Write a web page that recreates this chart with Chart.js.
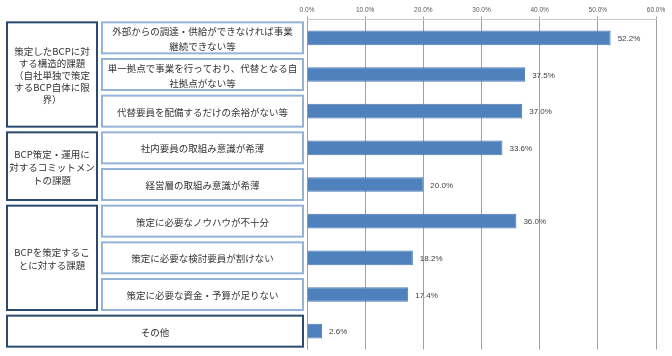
<!DOCTYPE html>
<html>
<head>
<meta charset="utf-8">
<script src="https://cdn.jsdelivr.net/npm/chart.js@4"></script>
<style>
html,body{margin:0;padding:0;background:#fff;}
#wrap{width:672px;height:356px;position:relative;}
</style>
</head>
<body>
<div id="wrap"><canvas id="c" width="672" height="356"></canvas></div>
<script>
// ---- data ----
const categories = [
  ["外部からの調達・供給ができなければ事業", "継続できない等"],
  ["単一拠点で事業を行っており、代替となる自", "社拠点がない等"],
  ["代替要員を配備するだけの余裕がない等"],
  ["社内要員の取組み意識が希薄"],
  ["経営層の取組み意識が希薄"],
  ["策定に必要なノウハウが不十分"],
  ["策定に必要な検討要員が割けない"],
  ["策定に必要な資金・予算が足りない"],
  ["その他"]
];
const values = [52.2, 37.5, 37.0, 33.6, 20.0, 36.0, 18.2, 17.4, 2.6];
const groupLabels = [
  ["策定したBCPに対", "する構造的課題", "（自社単独で策定", "するBCP自体に限", "界）"],
  ["BCP策定・運用に", "対するコミットメン", "トの課題"],
  ["BCPを策定するこ", "とに対する課題"],
  ["その他"]
];
const groupFirst = [0, 3, 5, 8];
const groupLast  = [2, 4, 7, 8];
const tickValues = [0, 10, 20, 30, 40, 50, 60];

const JP = '"Noto Sans CJK JP", "Noto Sans", sans-serif';

const boxesPlugin = {
  id: 'boxes',
  afterDraw(chart) {
    const ctx = chart.ctx;
    const y = chart.scales.y;
    const half = 15.5;
    ctx.save();
    ctx.textAlign = 'center';
    ctx.textBaseline = 'middle';
    ctx.fillStyle = '#333333';
    // category boxes
    categories.forEach((lab, i) => {
      const inSingle = groupFirst.some((f, g) => f === i && groupLast[g] === i && groupLabels[g][0] === lab[0]);
      if (inSingle) return;
      const cy = y.getPixelForValue(i);
      ctx.strokeStyle = '#95B3D7';
      ctx.lineWidth = 2;
      ctx.strokeRect(102, cy - half, 201, half * 2);
      ctx.font = '9.5px ' + JP;
      const lh = 15;
      lab.forEach((t, k) => {
        ctx.fillText(t, 202.5, cy + (k - (lab.length - 1) / 2) * lh + 1);
      });
    });
    // group boxes
    groupLabels.forEach((lab, g) => {
      const top = y.getPixelForValue(groupFirst[g]) - half;
      const bot = y.getPixelForValue(groupLast[g]) + half;
      const single = groupFirst[g] === groupLast[g];
      const x0 = 7, x1 = single ? 303 : 97;
      ctx.strokeStyle = '#2B4A70';
      ctx.lineWidth = 2;
      ctx.strokeRect(x0, top, x1 - x0, bot - top);
      ctx.font = '9.5px ' + JP;
      const lh = g === 0 ? 12 : 13;
      const cy = (top + bot) / 2;
      lab.forEach((t, k) => {
        ctx.fillText(t, (x0 + x1) / 2, cy + (k - (lab.length - 1) / 2) * lh + 1);
      });
    });
    ctx.restore();
  }
};

const valueLabels = {
  id: 'valueLabels',
  afterDatasetsDraw(chart) {
    const ctx = chart.ctx;
    const meta = chart.getDatasetMeta(0);
    ctx.save();
    ctx.font = '8px "Liberation Sans", Arial, sans-serif';
    ctx.fillStyle = '#404040';
    ctx.textAlign = 'left';
    ctx.textBaseline = 'middle';
    meta.data.forEach((bar, i) => {
      ctx.fillText(values[i].toFixed(1) + '%', bar.x + 7, bar.y + 1);
    });
    ctx.restore();
  }
};

new Chart(document.getElementById('c'), {
  type: 'bar',
  data: {
    labels: categories.map(c => c.join('')),
    datasets: [{
      data: values,
      backgroundColor: '#4F81BD',
      borderColor: '#4A7AB5',
      borderWidth: 1,
      barPercentage: 0.8,
      categoryPercentage: 0.5
    }]
  },
  options: {
    indexAxis: 'y',
    responsive: false,
    animation: false,
    layout: { padding: { left: 307, right: 16, top: 0, bottom: 6.5 } },
    plugins: { legend: { display: false }, tooltip: { enabled: false } },
    scales: {
      x: {
        position: 'top',
        min: 0, max: 60,
        afterBuildTicks(s) { s.ticks = tickValues.map(v => ({ value: v })); },
        afterFit(s) { s.height = 19.5; },
        ticks: {
          callback: v => v.toFixed(1) + '%',
          font: { size: 6.5, family: '"Liberation Sans", Arial, sans-serif' },
          color: '#595959',
          padding: 2,
          maxRotation: 0
        },
        grid: { color: '#A0A0A0', lineWidth: 1, tickLength: 3 },
        border: { display: true, color: '#C8C8C8' }
      },
      y: {
        display: false,
        grid: { display: false }
      }
    }
  },
  plugins: [boxesPlugin, valueLabels]
});
</script>
</body>
</html>
